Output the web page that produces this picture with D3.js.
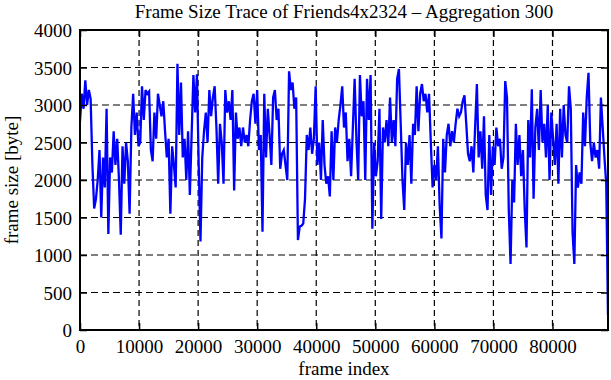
<!DOCTYPE html>
<html>
<head>
<meta charset="utf-8">
<script src="https://cdn.jsdelivr.net/npm/d3@7"></script>
<style>
  html, body { margin: 0; padding: 0; background: #fff; }
  svg { display: block; }
  text { font-family: "Liberation Serif", "DejaVu Serif", serif; fill: #000; }
</style>
</head>
<body>
<svg id="chart" width="611" height="380"></svg>
<script>
// ---- data ----
const chartTitle = "Frame Size Trace of Friends4x2324 \u2013 Aggregation 300";
const xLabel = "frame index";
const yLabel = "frame size [byte]";
const aggregation = 300;
const xTicks = [0, 10000, 20000, 30000, 40000, 50000, 60000, 70000, 80000];
const yTicks = [0, 500, 1000, 1500, 2000, 2500, 3000, 3500, 4000];
const xMax = 89400;
// frame sizes (bytes), one value per aggregation window of 300 frames
const frameSizes = [
  2780,3150,2950,3330,3000,3200,3080,2200,1620,1750,2000,2400,1500,2300,1900,2950,1280,2300,2100,2650,
  2200,2550,2000,1270,2450,1950,2500,2250,1550,2700,3150,2600,2900,2450,2500,3250,2800,3200,3150,3180,
  2400,2250,2900,2550,3150,3000,2850,3050,2650,2300,2550,1550,2450,2200,1900,3550,2600,3300,2300,2550,
  2000,2650,1800,2600,3400,2900,3410,2200,1180,2300,2650,2900,2500,3200,2850,3100,3250,2700,1950,2750,
  2500,1950,3200,2900,3050,2800,3200,1860,2900,2550,2700,2450,2700,2500,2600,2450,2800,3050,3150,2750,
  3200,2400,2600,1310,3150,2300,2950,2600,2200,3100,3200,2800,2950,2150,2350,2400,2200,2000,3450,3200,
  3300,2950,3100,1200,1380,1390,1420,1750,2600,2400,2700,2350,2550,3250,2200,2500,2000,2800,2200,1950,
  2050,1780,2650,2000,2700,2500,2800,3000,3250,2700,2900,2250,2550,2050,2700,3350,2550,2000,3400,2850,
  3050,2000,3350,2800,3400,1350,2500,2050,2250,2950,1480,2700,2500,2800,2450,3100,2500,2800,2450,3350,
  3480,2750,2000,1600,2500,2200,2600,1950,2750,2600,3250,2650,3150,3280,3050,3150,2900,3150,2500,1900,
  2200,2000,2450,1650,1220,2550,2100,2600,2750,2450,2650,2500,2750,2950,2850,2900,3050,3130,2750,2350,
  2250,2450,2100,2700,3280,2300,2650,2150,2850,1800,1600,2600,1800,2450,2200,2700,2450,2550,2150,
  2300,3320,3100,1600,880,2000,1700,2750,2200,2600,2050,2400,1600,1100,2800,2300,3210,1750,2700,2950,
  2400,3200,2500,2750,2300,3000,2000,2900,2550,2200,2750,1950,2950,2300,3000,2600,2500,3250,2950,1300,
  880,2200,1900,2100,1950,2900,2450,3100,3430,2500,2250,2500,2300,2400,2150,3100,2700,2300,1950,200
];

// ---- layout ----
const svg = d3.select("#chart");
const L = 80, R = 608, T = 30, B = 330;
const x = d3.scaleLinear().domain([0, xMax]).range([L, R]);
const y = d3.scaleLinear().domain([0, 4000]).range([B, T]);
const data = frameSizes.map((v, i) => ({ f: i * aggregation, v }));

// grid
const grid = svg.append("g").attr("stroke", "#000").attr("stroke-width", 1.2).attr("fill", "none");
grid.selectAll("line.gx").data(xTicks.filter(t => t > 0)).join("line")
  .attr("x1", d => x(d)).attr("x2", d => x(d)).attr("y1", T).attr("y2", B)
  .attr("stroke-dasharray", "6,4");
grid.selectAll("line.gy").data(yTicks.filter(t => t > 0 && t < 4000)).join("line")
  .attr("x1", L).attr("x2", R).attr("y1", d => y(d)).attr("y2", d => y(d))
  .attr("stroke-dasharray", "7,4");

// clip
svg.append("clipPath").attr("id", "clip").append("rect")
  .attr("x", L).attr("y", T).attr("width", R - L).attr("height", B - T);

// data line
svg.append("path")
  .datum(data)
  .attr("clip-path", "url(#clip)")
  .attr("fill", "none")
  .attr("stroke", "#0000ff")
  .attr("stroke-width", 2.3)
  .attr("stroke-linejoin", "miter")
  .attr("d", d3.line().x(d => x(d.f)).y(d => y(d.v)));

// axes (ticks inward, mirrored)
const tl = 7;
const axB = d3.axisBottom(x).tickValues(xTicks).tickSize(-tl).tickFormat(d3.format("d"));
const axT = d3.axisTop(x).tickValues(xTicks).tickSize(-tl).tickFormat("");
const axL = d3.axisLeft(y).tickValues(yTicks).tickSize(-tl).tickFormat(d3.format("d"));
const axR = d3.axisRight(y).tickValues(yTicks).tickSize(-tl).tickFormat("");

function styleAxis(g) {
  g.select(".domain").remove();
  g.selectAll(".tick line").attr("stroke", "#000").attr("stroke-width", 1.5);
  g.selectAll(".tick text").attr("font-family", "Liberation Serif").attr("font-size", 19).attr("fill", "#000");
}
svg.append("g").attr("transform", `translate(0,${B})`).call(axB).call(styleAxis)
  .selectAll(".tick text").attr("dy", "0.71em").attr("y", 10);
svg.append("g").attr("transform", `translate(0,${T})`).call(axT).call(styleAxis);
svg.append("g").attr("transform", `translate(${L},0)`).call(axL).call(styleAxis)
  .selectAll(".tick text").attr("x", -8).attr("dy", "0.36em");
svg.append("g").attr("transform", `translate(${R},0)`).call(axR).call(styleAxis);

// frame
svg.append("rect").attr("x", L).attr("y", T).attr("width", R - L).attr("height", B - T)
  .attr("fill", "none").attr("stroke", "#000").attr("stroke-width", 2);

// texts
svg.append("text").attr("x", (L + R) / 2).attr("y", 18).attr("text-anchor", "middle")
  .attr("font-size", 19).text(chartTitle);
svg.append("text").attr("x", (L + R) / 2).attr("y", 375).attr("text-anchor", "middle")
  .attr("font-size", 19).text(xLabel);
svg.append("text").attr("transform", `translate(18,${(T + B) / 2}) rotate(-90)`)
  .attr("text-anchor", "middle").attr("font-size", 19).text(yLabel);
</script>
</body>
</html>
